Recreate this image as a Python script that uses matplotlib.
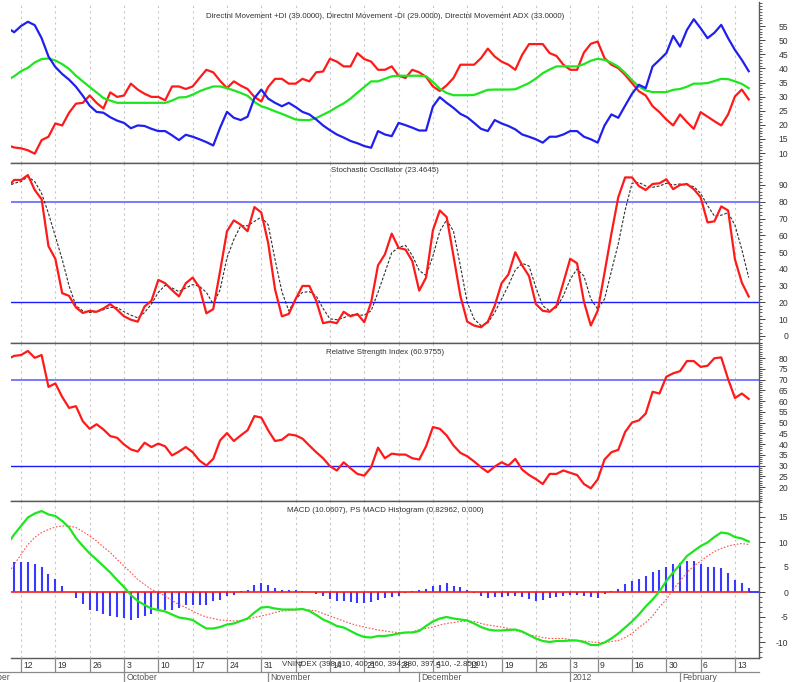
import numpy as np
import pandas as pd
import matplotlib
matplotlib.use("Agg")
import matplotlib.pyplot as plt
from matplotlib import font_manager
from matplotlib.ticker import MultipleLocator
import matplotlib.transforms as mtransforms

# narrow font if there is one, else a smaller Liberation Sans
installed = {f.name for f in font_manager.fontManager.ttflist}
if "Liberation Sans Narrow" in installed:
    plt.rcParams['font.family'] = ['Liberation Sans Narrow', 'DejaVu Sans']
    FS, FT = 7, 7
else:
    plt.rcParams['font.family'] = ['Liberation Sans', 'DejaVu Sans']
    FS, FT = 6.2, 5.7
plt.rcParams['axes.unicode_minus'] = False

# trading days (Tet holiday and 2 Jan closed)
dates = pd.bdate_range("2011-09-08", "2012-02-15")
holidays = pd.to_datetime(["2012-01-02", "2012-01-23", "2012-01-24",
                           "2012-01-25", "2012-01-26", "2012-01-27"])
dates = dates.drop(holidays)

# Directional movement
plus_di = [54.4, 52.8, 55.0, 56.5, 55.3, 50.7, 44.2, 40.5, 38.0, 36.0,
           33.5, 30.3, 26.8, 24.6, 24.3, 22.7, 21.5, 20.7, 18.8, 19.8,
           19.6, 18.6, 17.8, 17.8, 16.3, 14.6, 16.5, 15.8, 14.9, 13.9,
           12.7, 19.0, 24.6, 22.5, 21.7, 22.9, 29.5, 32.5, 29.3, 27.8,
           26.6, 27.8, 26.3, 24.6, 23.7, 21.9, 19.8, 18.1, 16.6, 15.5,
           14.3, 13.5, 12.5, 11.9, 17.8, 16.6, 16.0, 20.7, 19.9, 19.0,
           18.0, 18.0, 26.5, 29.8, 27.8, 26.0, 23.9, 22.7, 20.7, 18.6,
           17.8, 21.7, 20.5, 19.6, 18.4, 16.6, 15.8, 14.9, 13.7, 15.8,
           15.8, 16.6, 17.8, 17.8, 15.8, 14.9, 13.7, 19.8, 23.7, 22.5,
           26.8, 31.0, 34.2, 33.0, 40.7, 43.0, 45.4, 51.5, 47.7, 53.6,
           57.4, 54.2, 50.7, 52.6, 55.4, 50.7, 46.5, 43.0, 39.0]
minus_di = [12.8, 12.0, 11.7, 11.0, 9.8, 14.6, 15.8, 20.5, 19.8, 24.3,
            27.5, 27.8, 30.4, 27.8, 25.8, 31.5, 29.9, 30.4, 34.6, 32.5,
            31.0, 29.9, 29.9, 28.7, 33.6, 33.6, 32.7, 33.6, 36.6, 39.5,
            38.6, 35.6, 33.0, 35.4, 33.9, 32.7, 29.9, 28.3, 33.4, 36.3,
            36.3, 34.6, 34.6, 36.3, 35.4, 38.6, 38.9, 43.4, 42.4, 40.7,
            40.7, 45.4, 43.3, 42.4, 39.5, 39.5, 40.7, 37.4, 36.6, 39.5,
            38.6, 37.0, 33.6, 32.0, 34.0, 36.6, 41.3, 41.3, 41.3, 43.6,
            47.0, 44.2, 42.4, 41.3, 39.5, 44.8, 48.6, 48.6, 48.6, 45.4,
            44.4, 41.3, 39.5, 39.5, 45.6, 48.7, 49.5, 43.6, 41.3, 40.1,
            37.7, 34.8, 31.9, 30.4, 26.6, 24.5, 21.9, 19.8, 23.7, 21.0,
            18.6, 24.5, 22.9, 21.3, 19.8, 23.7, 30.1, 32.5, 29.0]
adx = [35.8, 37.2, 39.0, 40.2, 42.1, 43.3, 43.5, 42.8, 41.5, 39.8,
       37.4, 35.4, 33.4, 31.5, 29.5, 28.6, 27.8, 27.8, 27.8, 27.8,
       27.8, 27.8, 27.8, 27.8, 28.6, 29.7, 29.8, 30.7, 31.9, 32.8,
       33.6, 33.6, 33.0, 32.2, 31.3, 30.3, 28.1, 26.6, 25.8, 24.8,
       23.9, 22.9, 21.9, 21.7, 21.7, 22.4, 23.6, 24.8, 26.3, 27.6,
       29.3, 31.4, 33.4, 35.4, 35.4, 36.3, 37.2, 37.4, 37.4, 37.4,
       37.4, 37.2, 35.2, 32.8, 31.3, 30.5, 30.5, 30.5, 30.6, 31.5,
       32.4, 32.5, 32.5, 32.5, 32.6, 33.7, 34.8, 36.4, 38.3, 39.6,
       40.7, 40.7, 40.7, 40.7, 41.5, 42.7, 43.4, 43.0, 42.0, 40.6,
       38.4, 35.8, 33.6, 32.2, 31.6, 31.6, 31.6, 32.4, 32.7, 33.5,
       34.6, 34.6, 34.8, 35.5, 36.3, 36.2, 35.4, 34.5, 33.0]

# Stochastic oscillator %K and %D
stoch_k = [88.5, 93.0, 93.0, 95.9, 87.0, 81.5, 53.5, 46.0, 25.5, 23.9,
           17.0, 13.7, 15.0, 14.4, 16.4, 19.0, 15.6, 11.7, 9.7, 8.5,
           17.6, 21.0, 33.4, 31.4, 27.3, 23.6, 31.4, 34.8, 28.9, 13.5,
           16.0, 38.7, 62.4, 68.9, 66.3, 62.4, 76.8, 73.6, 55.5, 27.9,
           11.7, 13.1, 22.0, 29.8, 29.8, 21.0, 7.6, 8.5, 7.6, 14.4,
           11.7, 13.1, 8.2, 20.0, 42.1, 48.6, 61.0, 52.5, 51.5, 44.6,
           27.0, 34.8, 63.0, 74.8, 70.9, 47.6, 23.9, 8.5, 6.2, 5.2,
           8.5, 18.0, 31.4, 36.7, 49.9, 42.1, 35.7, 19.0, 15.0, 14.4,
           18.0, 31.8, 46.0, 43.3, 20.4, 6.2, 15.0, 37.7, 61.0, 82.7,
           94.5, 94.5, 89.4, 87.0, 90.6, 91.0, 93.4, 87.5, 90.0, 90.6,
           87.5, 82.7, 67.7, 68.3, 77.2, 74.8, 45.6, 31.8, 23.5]
stoch_d = [89.0, 91.0, 92.0, 95.0, 92.0, 85.0, 73.0, 59.4, 45.6, 29.8,
           18.0, 15.0, 14.0, 14.4, 15.6, 17.0, 17.0, 14.4, 12.4, 10.8,
           14.0, 19.0, 26.0, 30.2, 28.6, 26.4, 28.6, 30.6, 29.6, 26.0,
           18.9, 27.6, 46.6, 57.5, 65.7, 65.7, 68.3, 70.9, 66.3, 45.6,
           26.4, 15.0, 22.0, 26.0, 26.4, 23.9, 16.4, 10.2, 9.7, 10.8,
           12.8, 12.4, 12.4, 15.0, 26.0, 37.7, 49.6, 52.8, 54.0, 48.0,
           39.0, 36.0, 47.6, 62.4, 69.3, 62.4, 41.7, 20.0, 10.1, 6.2,
           7.8, 14.0, 22.0, 30.2, 39.3, 43.3, 41.7, 28.9, 18.0, 15.0,
           17.0, 23.9, 33.8, 39.9, 35.7, 22.0, 16.0, 22.0, 38.7, 55.0,
           75.0, 91.0, 91.5, 89.4, 88.6, 89.4, 91.0, 90.0, 90.6, 90.0,
           89.0, 85.0, 77.8, 71.5, 72.0, 73.5, 66.0, 51.5, 34.8]

# Relative strength index
rsi = [79.5, 81.0, 81.4, 83.3, 80.1, 81.4, 66.6, 68.2, 61.9, 56.8,
       57.6, 50.6, 47.1, 49.2, 46.8, 43.7, 42.9, 39.8, 37.5, 36.5,
       40.6, 38.6, 40.2, 38.9, 34.7, 36.5, 38.6, 36.2, 32.3, 30.0,
       33.1, 41.7, 45.1, 41.4, 44.0, 46.4, 53.0, 52.3, 46.4, 41.4,
       42.0, 44.5, 44.0, 42.5, 39.3, 36.2, 33.4, 29.7, 27.7, 31.5,
       28.7, 26.1, 25.3, 29.2, 38.3, 33.4, 35.5, 35.1, 35.1, 33.4,
       32.8, 38.9, 47.9, 47.1, 44.0, 39.3, 35.9, 34.3, 31.9, 29.2,
       26.9, 29.5, 31.5, 30.0, 33.1, 28.1, 25.6, 23.7, 21.4, 26.1,
       26.1, 27.7, 26.6, 25.6, 21.4, 19.4, 23.5, 32.8, 36.2, 37.3,
       45.6, 50.0, 51.0, 54.2, 64.3, 63.5, 71.3, 72.9, 73.9, 78.6,
       78.6, 75.9, 76.4, 79.9, 80.3, 70.2, 61.4, 63.5, 61.0]

# MACD, signal and histogram
macd = [9.5, 11.5, 13.2, 14.9, 15.7, 16.2, 15.5, 15.2, 14.2, 12.9,
        10.8, 9.2, 7.7, 6.5, 5.2, 3.9, 2.4, 1.0, -0.6, -1.8,
        -2.6, -3.3, -3.6, -3.9, -4.5, -5.1, -5.3, -5.6, -6.5, -7.3,
        -7.3, -7.0, -6.5, -6.3, -5.8, -5.3, -4.1, -3.1, -3.0, -3.3,
        -3.5, -3.5, -3.5, -3.4, -3.8, -4.6, -5.5, -6.1, -6.8, -7.1,
        -7.8, -8.5, -9.0, -9.1, -8.8, -8.8, -8.6, -8.3, -8.1, -8.1,
        -7.8, -6.8, -5.9, -5.3, -5.0, -5.3, -5.5, -5.7, -6.3, -7.0,
        -7.5, -7.7, -7.7, -7.6, -7.5, -7.9, -8.6, -9.3, -9.8, -10.0,
        -9.8, -9.8, -9.7, -9.7, -10.0, -10.6, -10.6, -10.1, -9.3, -8.3,
        -7.1, -5.9, -4.5, -2.9, -1.5, 0.1, 2.2, 3.9, 5.5, 7.2,
        8.2, 9.2, 9.9, 11.0, 11.9, 11.7, 11.0, 10.7, 10.1]
signal = [3.5, 5.5, 7.5, 9.5, 10.9, 11.9, 12.5, 13.0, 13.2, 13.2,
          12.9, 12.1, 11.2, 10.2, 9.0, 7.9, 6.5, 5.2, 3.9, 2.5,
          1.5, 0.5, -0.1, -0.8, -1.7, -2.5, -3.1, -3.8, -4.5, -5.0,
          -5.3, -5.6, -5.7, -5.8, -5.7, -5.5, -5.1, -4.8, -4.5, -4.1,
          -3.8, -3.7, -3.6, -3.5, -3.6, -3.8, -4.3, -4.8, -5.3, -5.8,
          -6.3, -6.7, -7.0, -7.3, -7.6, -7.8, -8.0, -8.1, -8.1, -8.0,
          -7.5, -7.3, -7.0, -6.6, -6.3, -6.1, -5.9, -5.8, -5.9, -6.3,
          -6.6, -6.8, -7.0, -7.3, -7.7, -8.1, -8.6, -8.8, -9.1, -9.3,
          -9.3, -9.3, -9.5, -9.7, -9.8, -10.0, -10.1, -10.1, -9.9, -9.7,
          -9.1, -8.3, -7.1, -6.1, -4.8, -3.0, -1.5, 0.5, 2.2, 3.9,
          5.2, 6.2, 7.2, 8.1, 8.7, 9.2, 9.5, 9.7, 9.5]
hist = [6.0, 6.0, 6.0, 6.0, 5.7, 5.0, 3.7, 2.7, 1.2, 0.1,
        -1.1, -2.3, -3.5, -3.8, -4.3, -4.7, -4.9, -5.1, -5.5, -5.1,
        -4.8, -4.3, -3.8, -3.5, -3.5, -3.1, -2.6, -2.5, -2.5, -2.6,
        -1.8, -1.5, -0.7, -0.5, 0.2, 0.5, 1.4, 1.9, 1.5, 0.9,
        0.5, 0.5, 0.5, 0.3, 0.1, -0.3, -0.8, -1.3, -1.8, -1.8,
        -2.0, -2.1, -2.1, -1.9, -1.5, -1.1, -1.0, -0.7, -0.1, 0.2,
        0.5, 0.7, 1.2, 1.5, 1.9, 1.3, 1.0, 0.5, -0.1, -0.8,
        -1.1, -1.0, -0.9, -0.7, -0.7, -1.0, -1.3, -1.7, -1.5, -1.1,
        -1.0, -0.8, -0.5, -0.6, -0.7, -1.0, -1.1, -0.3, 0.3, 0.7,
        1.7, 2.2, 2.7, 3.2, 4.1, 4.4, 5.1, 5.7, 5.9, 6.3,
        6.3, 5.7, 5.1, 5.1, 4.9, 3.9, 2.5, 1.9, 0.83]

titles = ["Directnl Movement +DI (39.0000), Directnl Movement -DI (29.0000), Directnl Movement ADX (33.0000)",
          "Stochastic Oscillator (23.4645)",
          "Relative Strength Index (60.9755)",
          "MACD (10.0607), PS MACD Histogram (0.82962, 0.000)"]
quote = "VNINDEX (398.610, 400.860, 394.380, 397.410, -2.85001)"

W, H = 800, 682
L, R = 11, 759
x = np.arange(len(dates))
xlim = (0.54, 109.5)

# first trading day of each week / month
week_ticks = [i for i in range(1, len(dates)) if dates[i].week != dates[i - 1].week]
month_ticks = [i for i in range(1, len(dates)) if dates[i].month != dates[i - 1].month]

fig = plt.figure(figsize=(W / 100, H / 100), dpi=100)


def panel(top, bottom, ylim, major, minor, title, title_off):
    ax = fig.add_axes([L / W, 1 - bottom / H, (R - L) / W, (bottom - top) / H])
    ax.set_xlim(*xlim)
    ax.set_ylim(*ylim)
    for i in week_ticks:
        ax.axvline(i, color="#c8c8c8", lw=0.8, ls=(0, (2, 3)), zorder=0)
    ax.spines["left"].set_visible(False)
    for s in ("top", "bottom", "right"):
        ax.spines[s].set_color("#5a5a5a")
        ax.spines[s].set_linewidth(1.0)
    ax.yaxis.tick_right()
    ax.yaxis.set_major_locator(MultipleLocator(major))
    ax.yaxis.set_minor_locator(MultipleLocator(minor))
    ax.tick_params(axis="y", which="major", length=4, width=0.7, colors="#444444",
                   labelsize=FS, pad=17, labelcolor="#333333")
    ax.tick_params(axis="y", which="minor", length=2, width=0.6, colors="#444444")
    ax.set_xticks([])
    ax.text(0.5, 1 - title_off / (bottom - top), title, transform=ax.transAxes,
            ha="center", va="center", fontsize=FT, color="#333333")
    return ax


def right_labels(ax, ticks):
    ax.set_yticks(ticks)
    for lab in ax.get_yticklabels():
        lab.set_horizontalalignment("right")


ax1 = panel(2, 163, (6.5, 63.5), 5, 1, titles[0], 14)
ax1.spines["top"].set_visible(False)
ax1.plot(x, minus_di, color="#ff1a1a", lw=1.6)
ax1.plot(x, adx, color="#1ee61e", lw=1.6)
ax1.plot(x, plus_di, color="#2020ee", lw=1.6)
right_labels(ax1, range(10, 60, 5))

ax2 = panel(163, 343, (-4.2, 103.1), 10, 2, titles[1], 8)
ax2.axhline(80, color="#7a7aff", lw=1.4, zorder=1)
ax2.axhline(20, color="#1a1aff", lw=1.0, zorder=1)
ax2.plot(x, stoch_d, color="#303030", lw=0.8, ls=(0, (2.5, 1.5)))
ax2.plot(x, stoch_k, color="#ff1a1a", lw=1.6)
right_labels(ax2, range(0, 100, 10))

ax3 = panel(343, 501, (13.5, 87.0), 5, 1, titles[2], 9)
ax3.axhline(70, color="#7a7aff", lw=1.4, zorder=1)
ax3.axhline(30, color="#1a1aff", lw=1.0, zorder=1)
ax3.plot(x, rsi, color="#ff1a1a", lw=1.6)
right_labels(ax3, range(20, 85, 5))

ax4 = panel(501, 658, (-13.2, 18.2), 5, 1, titles[3], 10)
ax4.vlines(x, 0, hist, color="#3838ff", lw=1.5)
ax4.hlines(0, x[0], x[-1], color="#ff1a1a", lw=1.2)
ax4.hlines(0, x[-1], xlim[1], color="#1a1aff", lw=1.2)
ax4.plot(x, signal, color="#ff5050", lw=0.8, ls=(0, (1.5, 1.5)))
ax4.plot(x, macd, color="#1ee61e", lw=1.6)
right_labels(ax4, range(-10, 20, 5))

# date strip
axd = fig.add_axes([L / W, 0, (R - L) / W, 24 / H])
axd.set_xlim(*xlim)
axd.set_ylim(0, 24)
axd.axis("off")
line_kw = dict(color="#8a8a8a", lw=0.9)
for i in week_ticks:
    axd.plot([i, i], [10, 24], **line_kw)
    axd.text(i + 0.35, 17, str(dates[i].day), fontsize=FS, color="#333333",
             ha="left", va="center")
for i in month_ticks:
    axd.plot([i, i], [0, 10], **line_kw)
    name = str(dates[i].year) if dates[i].month == 1 else dates[i].strftime("%B")
    axd.text(i + 0.35, 4.5, name, fontsize=FS, color="#555555", ha="left", va="center")
trans = mtransforms.blended_transform_factory(axd.transAxes, axd.transData)
axd.plot([-L / (R - L), 1], [10, 10], transform=trans, clip_on=False, **line_kw)
fig.text(10 / W, 4.5 / H, "September", fontsize=FS, color="#555555", ha="right", va="center")
# quote line sits over the day labels, as in the source chart
axd.text(0.499, 17, quote, transform=trans, fontsize=FT, color="#333333",
         ha="center", va="center")

fig.savefig("out.png", dpi=100)
